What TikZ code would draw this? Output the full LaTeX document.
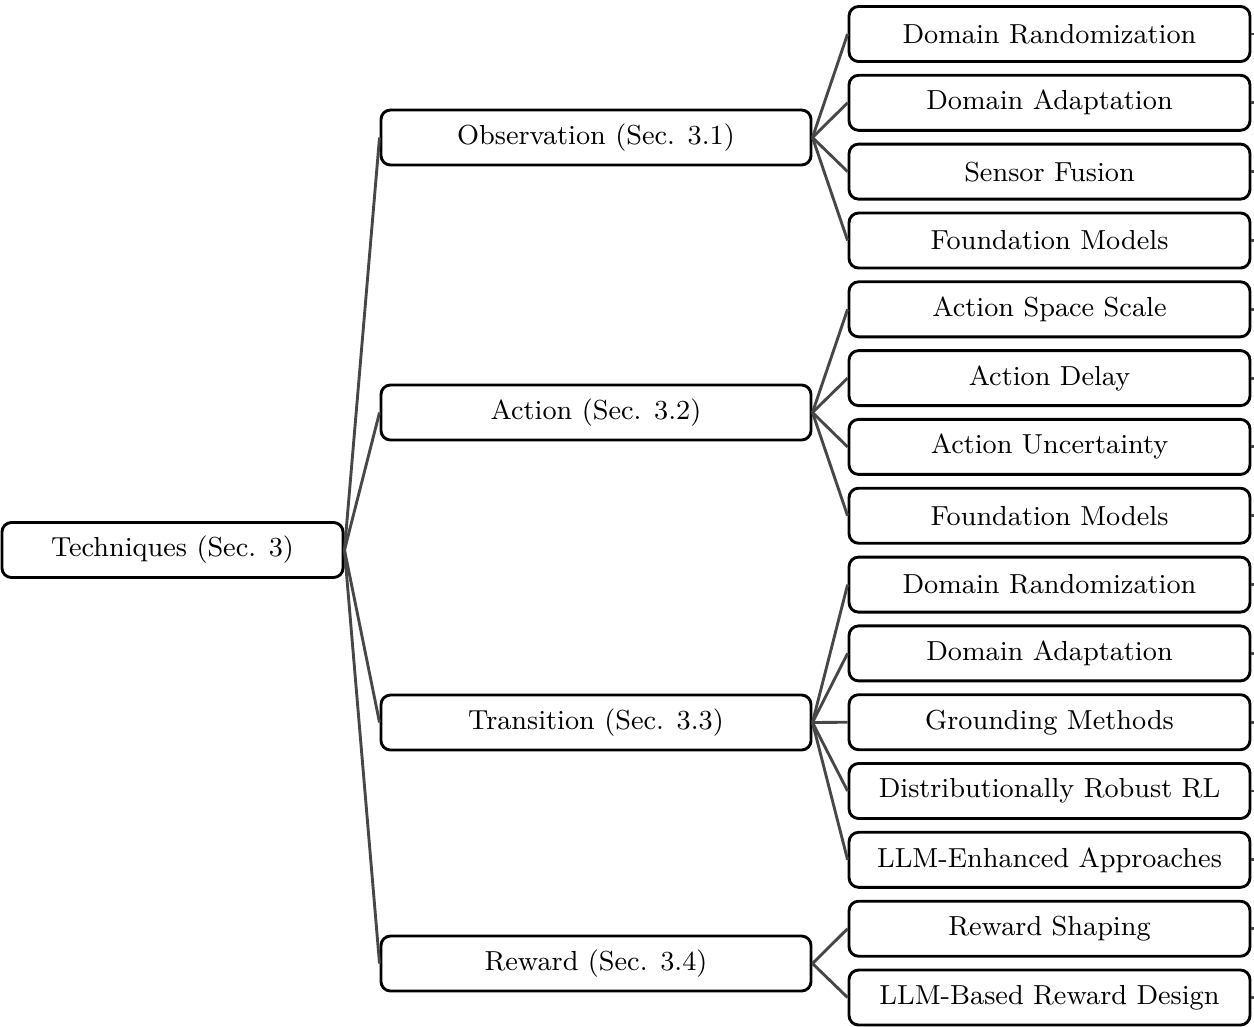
\documentclass[tikz,border=0pt]{standalone}
\usetikzlibrary{positioning}

\begin{document}
\begin{tikzpicture}[x=0.3125pt, y=-0.3125pt,
	box/.style={draw, line width=0.9pt, rounded corners=3pt, minimum height=17.2pt, inner sep=0pt, font=\fontsize{8.6}{10}\selectfont},
	rootbox/.style={box, minimum width=106.6pt},
	topicbox/.style={box, minimum width=134.4pt},
	leafbox/.style={box, minimum width=125.3pt},
	link/.style={line width=0.9pt, draw=black!72}]
			\def\rx{172.5};
			\def\tx{596};
			\def\lx{1049.5};

			\useasboundingbox (0,0) rectangle (1254,1026);

			% root and topics
			\node[rootbox] (root) at (\rx,550) {Techniques (Sec. 3)};
			\node[topicbox] (obs) at (\tx,137.5) {Observation (Sec. 3.1)};
			\node[topicbox] (act) at (\tx,412.5) {Action (Sec. 3.2)};
			\node[topicbox] (tra) at (\tx,722.5) {Transition (Sec. 3.3)};
			\node[topicbox] (rew) at (\tx,963.5) {Reward (Sec. 3.4)};

			% leaves
			\begin{scope}[every node/.style={leafbox}]
				\node (obsA) at (\lx,34) {Domain Randomization};
				\node (obsB) at (\lx,102.8) {Domain Adaptation};
				\node (obsC) at (\lx,171.6) {Sensor Fusion};
				\node (obsD) at (\lx,240.5) {Foundation Models};

				\node (actA) at (\lx,309.3) {Action Space Scale};
				\node (actB) at (\lx,378.1) {Action Delay};
				\node (actC) at (\lx,446.9) {Action Uncertainty};
				\node (actD) at (\lx,515.7) {Foundation Models};

				\node (traA) at (\lx,584.6) {Domain Randomization};
				\node (traB) at (\lx,653.4) {Domain Adaptation};
				\node (traC) at (\lx,722.2) {Grounding Methods};
				\node (traD) at (\lx,791) {Distributionally Robust RL};
				\node (traE) at (\lx,859.8) {LLM-Enhanced Approaches};

				\node (rewA) at (\lx,928.7) {Reward Shaping};
				\node (rewB) at (\lx,997.5) {LLM-Based Reward Design};
			\end{scope}

			\begin{scope}[link]
				\draw (root.east) -- (obs.west);
				\draw (root.east) -- (act.west);
				\draw (root.east) -- (tra.west);
				\draw (root.east) -- (rew.west);

				\draw (obs.east) -- (obsA.west);
				\draw (obs.east) -- (obsB.west);
				\draw (obs.east) -- (obsC.west);
				\draw (obs.east) -- (obsD.west);

				\draw (act.east) -- (actA.west);
				\draw (act.east) -- (actB.west);
				\draw (act.east) -- (actC.west);
				\draw (act.east) -- (actD.west);

				\draw (tra.east) -- (traA.west);
				\draw (tra.east) -- (traB.west);
				\draw (tra.east) -- (traC.west);
				\draw (tra.east) -- (traD.west);
				\draw (tra.east) -- (traE.west);

				\draw (rew.east) -- (rewA.west);
				\draw (rew.east) -- (rewB.west);

				% stubs cut off at the page edge
				\draw (root.west) -- ++(-8,0);
				\foreach \n in {obsA,obsB,obsC,obsD,actA,actB,actC,actD,traA,traB,traC,traD,traE,rewA,rewB}
					\draw (\n.east) -- ++(8,0);
			\end{scope}
		\end{tikzpicture}
\end{document}
